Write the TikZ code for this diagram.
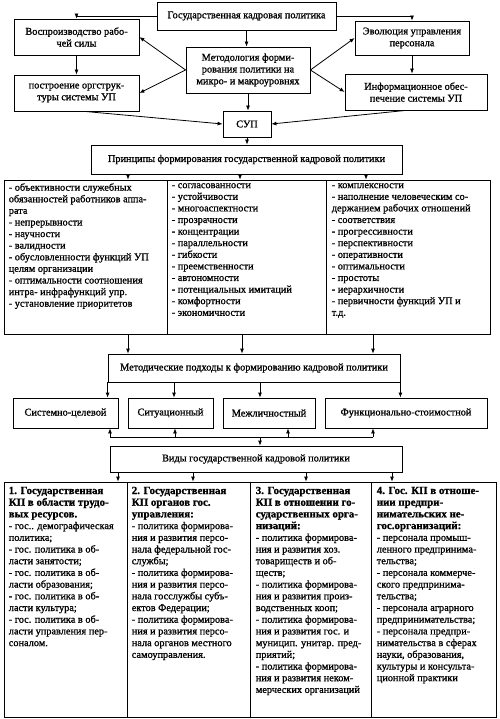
\documentclass[tikz,border=0pt]{standalone}
\usepackage{fontspec}
\setmainfont{Liberation Serif}
\newfontfamily\bodyf{Liberation Serif}[FakeBold=1.0]
\usetikzlibrary{arrows.meta,calc}
\newcommand\myhd[1]{{\fontsize{10.9}{11.7}\selectfont\bfseries #1}}
\begin{document}
\begin{tikzpicture}[x=1pt,y=-1pt,
  box/.style={draw,line width=0.8pt,inner sep=0pt,align=center,font=\bodyf\fontsize{10.3}{11.8}\selectfont},
  colbox/.style={draw,line width=0.8pt,inner sep=0pt},
  txt/.style={inner sep=0pt,align=left,anchor=north west,font=\bodyf\fontsize{10.3}{11.6}\selectfont},
  btxt/.style={inner sep=0pt,align=left,anchor=north west,font=\bodyf\fontsize{10.3}{11.7}\selectfont},
  arr/.style={line width=0.8pt,-{Latex[length=5pt,width=4pt]}},
  ln/.style={line width=0.8pt}]
\useasboundingbox[fill=white] (0,0) rectangle (499,719);

% top part
\node[box,minimum width=179pt,minimum height=28pt] (gkp) at (246.5,16) {Государственная кадровая политика};
\node[box,minimum width=125pt,minimum height=36pt] (vos) at (76.5,37) {Воспроизводство рабо-\\чей силы};
\node[box,minimum width=125pt,minimum height=36pt] (post) at (76.5,93) {построение оргструк-\\туры системы УП};
\node[box,minimum width=124pt,minimum height=46pt] (met) at (248,70) {Методология форми-\\рования политики на\\микро- и макроуровнях};
\node[box,minimum width=48pt,minimum height=26pt] (sup) at (247,124) {СУП};
\node[box,minimum width=114pt,minimum height=34pt] (evo) at (412,38) {Эволюция управления\\персонала};
\node[box,minimum width=142pt,minimum height=36pt] (inf) at (416,92) {Информационное обес-\\печение системы УП};
\node[box,minimum width=311pt,minimum height=29pt] (pri) at (246.5,159.5) {Принципы формирования государственной кадровой политики};

\draw[arr] (gkp.west) -| (vos.north);
\draw[arr] (gkp.east) -| (evo.north);
\draw[arr] (gkp.south) -- (gkp.south |- met.north);
\draw[arr] (vos.south) -- (post.north);
\draw[arr] (evo.south) -- (evo.south |- inf.north);
\draw[arr] (met.west) -- (vos.east);
\draw[arr] (met.west) -- (post.east);
\draw[arr] (met.east) -- (evo.west);
\draw[arr] (met.east) -- (inf.west);
\draw[arr] (met.south) -- (met.south |- sup.north);
\draw[arr] ([xshift=8pt]post.south) -- (sup.west);
\draw[arr] ([xshift=-10pt]inf.south) -- (sup.east);
\draw[arr] (sup.south) -- (sup.south |- pri.north);

% principle columns
\node[colbox,minimum width=163pt,minimum height=154pt] (c1) at (85.5,257) {};
\node[colbox,minimum width=159pt,minimum height=154pt] (c2) at (246.5,257) {};
\node[colbox,minimum width=164pt,minimum height=154pt] (c3) at (408,257) {};

\node[txt] (t1) at ($(c1.north west)+(5,3.5)$) {- объективности служебных\\обязанностей работников аппа-\\рата\\- непрерывности\\- научности\\- валидности\\- обусловленности функций УП\\целям организации\\- оптимальности соотношения\\интра- инфрафункций упр.\\- установление приоритетов};
\node[txt] (t2) at ($(c2.north west)+(5,3.5)$) {- согласованности\\- устойчивости\\- многоаспектности\\- прозрачности\\- концентрации\\- параллельности\\- гибкости\\- преемственности\\- автономности\\- потенциальных имитаций\\- комфортности\\- экономичности};
\node[txt] (t3) at ($(c3.north west)+(6,3.5)$) {- комплексности\\- наполнение человеческим со-\\держанием рабочих отношений\\- соответствия\\- прогрессивности\\- перспективности\\- оперативности\\- оптимальности\\- простоты\\- иерархичности\\- первичности функций УП и\\т.д.};

\draw[arr] ([xshift=-118.5pt]pri.south) -- ([xshift=-118.5pt]pri.south |- c1.north);
\draw[arr] ([xshift=-6.5pt]pri.south) -- ([xshift=-6.5pt]pri.south |- c2.north);
\draw[arr] ([xshift=119.5pt]pri.south) -- ([xshift=119.5pt]pri.south |- c3.north);

% methodical approaches
\node[box,minimum width=292pt,minimum height=28pt] (mp) at (254,368) {Методические подходы к формированию кадровой политики};
\draw[arr] ([xshift=-126pt]mp.north |- c1.south) -- ([xshift=-126pt]mp.north);
\draw[arr] ([xshift=-12pt]mp.north |- c2.south) -- ([xshift=-12pt]mp.north);
\draw[arr] ([xshift=119pt]mp.north |- c3.south) -- ([xshift=119pt]mp.north);

\node[box,minimum width=105pt,minimum height=30pt] (a1) at (65.5,413) {Системно-целевой};
\node[box,minimum width=85pt,minimum height=30pt] (a2) at (170.5,413) {Ситуационный};
\node[box,minimum width=92pt,minimum height=30pt] (a3) at (269,413) {Межличностный};
\node[box,minimum width=162pt,minimum height=30pt] (a4) at (406,413) {Функционально-стоимостной};

\draw[arr] (mp.south west) -- (mp.south west |- a1.north);
\draw[arr] ([xshift=-80pt]mp.south) -- ([xshift=-80pt]mp.south |- a2.north);
\draw[arr] ([xshift=6pt]mp.south) -- ([xshift=6pt]mp.south |- a3.north);
\draw[arr] (mp.south east) -- (mp.south east |- a4.north);

% types
\node[box,minimum width=292pt,minimum height=26pt] (vid) at (256,459) {Виды государственной кадровой политики};
\coordinate (h1) at (110,437);
\coordinate (h2) at (175,437);
\coordinate (h3) at (288,437);
\coordinate (h4) at (373,437);
\coordinate (hc) at (260,437);
\draw[ln] (h1) -- (h4);
\draw[arr] (h1) -- (h1 |- a1.south);
\draw[arr] (h2) -- (h2 |- a2.south);
\draw[arr] (h3) -- (h3 |- a3.south);
\draw[arr] (h4) -- (h4 |- a4.south);
\draw[arr] (hc) -- (hc |- vid.north);

\node[colbox,minimum width=123pt,minimum height=235pt] (b1) at (65.5,599.5) {};
\node[colbox,minimum width=123pt,minimum height=235pt] (b2) at (188.5,599.5) {};
\node[colbox,minimum width=121pt,minimum height=235pt] (b3) at (310.5,599.5) {};
\node[colbox,minimum width=125pt,minimum height=235pt] (b4) at (433.5,599.5) {};

\draw[arr] ([xshift=-138pt]vid.south) -- ([xshift=-138pt]vid.south |- b1.north);
\draw[arr] ([xshift=-63pt]vid.south) -- ([xshift=-63pt]vid.south |- b2.north);
\draw[arr] ([xshift=50pt]vid.south) -- ([xshift=50pt]vid.south |- b3.north);
\draw[arr] ([xshift=136pt]vid.south) -- ([xshift=136pt]vid.south |- b4.north);

\node[btxt] (u1) at ($(b1.north west)+(5,5)$) {\myhd{1. Государственная}\\\myhd{КП в области трудо-}\\\myhd{вых ресурсов.}\\- гос.. демографическая\\политика;\\- гос. политика в об-\\ласти занятости;\\- гос. политика в об-\\ласти образования;\\- гос. политика в об-\\ласти культура;\\- гос. политика в об-\\ласти управления пер-\\соналом.};
\node[btxt] (u2) at ($(b2.north west)+(5,5)$) {\myhd{2. Государственная}\\\myhd{КП органов гос.}\\\myhd{управления:}\\- политика формирова-\\ния и развития персо-\\нала федеральной гос-\\службы;\\- политика формирова-\\ния и развития персо-\\нала госслужбы субъ-\\ектов Федерации;\\- политика формирова-\\ния и развития персо-\\нала органов местного\\самоуправления.};
\node[btxt] (u3) at ($(b3.north west)+(6,5)$) {\myhd{3. Государственная}\\\myhd{КП в отношении го-}\\\myhd{сударственных орга-}\\\myhd{низаций:}\\- политика формирова-\\ния и развития хоз.\\товариществ и об-\\ществ;\\- политика формирова-\\ния и развития произ-\\водственных кооп;\\- политика формирова-\\ния и развития гос. и\\муницип. унитар. пред-\\приятий;\\- политика формирова-\\ния и развития неком-\\мерческих организаций};
\node[btxt] (u4) at ($(b4.north west)+(6,5)$) {\myhd{4. Гос. КП в отноше-}\\\myhd{нии предпри-}\\\myhd{нимательских не-}\\\myhd{гос.организаций:}\\- персонала промыш-\\ленного предпринима-\\тельства;\\- персонала коммерче-\\ского предпринима-\\тельства;\\- персонала аграрного\\предпринимательства;\\- персонала предпри-\\нимательства в сферах\\науки, образования,\\культуры и консульта-\\ционной практики};
\end{tikzpicture}
\end{document}
